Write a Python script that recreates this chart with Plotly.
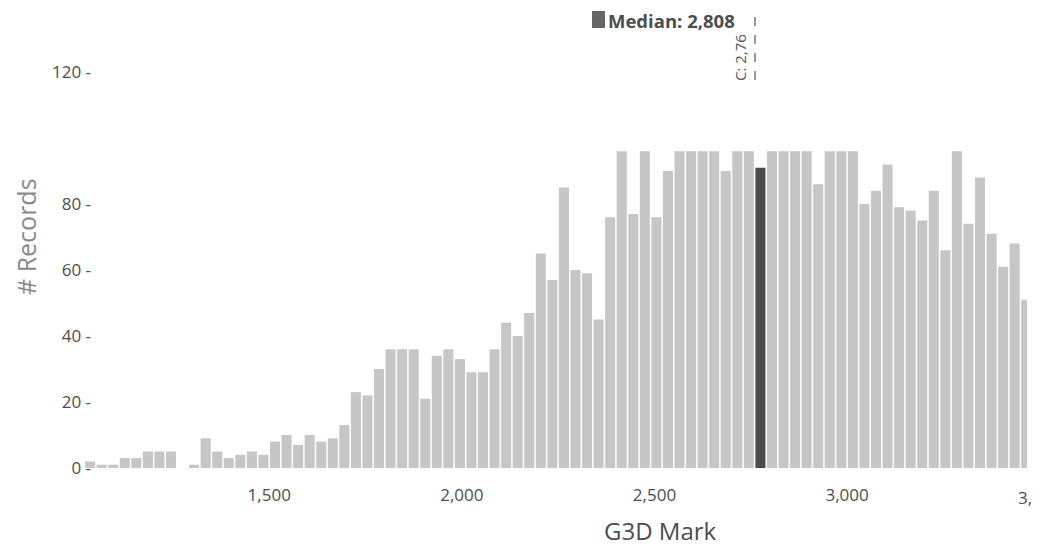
import plotly.graph_objects as go

# ---- data ----
bin_centers = [
    1035, 1065, 1095, 1125, 1155, 1185, 1215, 1245, 1275, 1305,
    1335, 1365, 1395, 1425, 1455, 1485, 1515, 1545, 1575, 1605,
    1635, 1665, 1695, 1725, 1755, 1785, 1815, 1845, 1875, 1905,
    1935, 1965, 1995, 2025, 2055, 2085, 2115, 2145, 2175, 2205,
    2235, 2265, 2295, 2325, 2355, 2385, 2415, 2445, 2475, 2505,
    2535, 2565, 2595, 2625, 2655, 2685, 2715, 2745, 2775, 2805,
    2835, 2865, 2895, 2925, 2955, 2985, 3015, 3045, 3075, 3105,
    3135, 3165, 3195, 3225, 3255, 3285, 3315, 3345, 3375, 3405,
    3435, 3465,
]
records = [
    2, 1, 1, 3, 3, 5, 5, 5, 0, 1,
    9, 5, 3, 4, 5, 4, 8, 10, 7, 10,
    8, 9, 13, 23, 22, 30, 36, 36, 36, 21,
    34, 36, 33, 29, 29, 36, 44, 40, 47, 65,
    57, 85, 60, 59, 45, 76, 96, 77, 96, 76,
    90, 96, 96, 96, 96, 90, 96, 96, 91, 96,
    96, 96, 96, 86, 96, 96, 96, 80, 84, 92,
    79, 78, 75, 84, 66, 96, 74, 88, 71, 61,
    68, 51,
]
highlight_bin = 2775
median_label = "Median: 2,808"
side_label = "C: 2,76"
x_tick_vals = [1500, 2000, 2500, 3000]
x_tick_text = ["1,500", "2,000", "2,500", "3,000"]
x_edge_tick_text = "3,500"
x_edge_tick_val = 3500
y_tick_vals = [0, 20, 40, 60, 80, 120]
y_tick_text = ["0 -", "20 -", "40 -", "60 -", "80 -", "120 -"]

X_RANGE = [1014, 3467]
Y_RANGE = [0, 130]

LIGHT = "#c6c6c6"
DARK = "#4a4a4a"
TEXT = "#4d4d4d"
FONT = "Open Sans"

colors = [DARK if b == highlight_bin else LIGHT for b in bin_centers]

fig = go.Figure()
fig.add_trace(go.Bar(
    x=bin_centers, y=records,
    marker=dict(color=colors, line=dict(width=0)),
    showlegend=False, hoverinfo="x+y",
))

# page body has an 8px margin: draw in reference pixels, shift by OFF
OFF = 8
W, H = 1039 - OFF, 548 - OFF
L_REF, R_REF, T_REF, B_REF = 82, 1027, 39, 468
ml, mt = L_REF - OFF, T_REF - OFF
mr = W - (R_REF - OFF)
mb = H - (B_REF - OFF)
pw, ph = R_REF - L_REF, B_REF - T_REF


def px_x(px):
    return (px - L_REF) / pw


def px_y(py):
    return (B_REF - py) / ph


fig.update_layout(
    width=W, height=H,
    margin=dict(l=ml, r=mr, t=mt, b=mb, pad=0),
    paper_bgcolor="white", plot_bgcolor="white",
    bargap=0.13,
    font=dict(family=FONT, color=TEXT),
    xaxis=dict(
        range=X_RANGE, showgrid=False, zeroline=False, showline=False,
        tickvals=x_tick_vals, ticktext=x_tick_text, ticks="",
        tickfont=dict(size=17, color=TEXT, family=FONT),
        ticklabelstandoff=15,
    ),
    yaxis=dict(
        range=Y_RANGE, showgrid=False, zeroline=False, showline=False,
        tickvals=y_tick_vals, ticktext=y_tick_text, ticks="",
        tickfont=dict(size=17, color=TEXT, family=FONT),
        ticklabelstandoff=-10,
    ),
)

edge_x = (x_edge_tick_val - X_RANGE[0]) / (X_RANGE[1] - X_RANGE[0])

annotations = [
    dict(text="G3D Mark", xref="paper", yref="paper", x=px_x(660), y=px_y(530),
         showarrow=False, font=dict(size=24, color=TEXT, family=FONT),
         xanchor="center", yanchor="middle"),
    dict(text="# Records", xref="paper", yref="paper", x=px_x(26), y=px_y(237),
         showarrow=False, textangle=-90, font=dict(size=25, color="#8a8a8a", family=FONT),
         xanchor="center", yanchor="middle"),
    dict(text="<b>" + median_label + "</b>", xref="paper", yref="paper",
         x=px_x(607), y=px_y(20.5), showarrow=False, borderpad=0,
         font=dict(size=18.5, color=TEXT, family=FONT), xanchor="left", yanchor="middle"),
    dict(text=side_label, xref="paper", yref="paper", x=px_x(740), y=px_y(58),
         showarrow=False, textangle=-90, font=dict(size=15, color="#5a5a5a", family=FONT),
         xanchor="center", yanchor="middle"),
    dict(text=x_edge_tick_text, xref="paper", yref="paper", x=edge_x, y=px_y(497),
         showarrow=False, font=dict(size=17, color=TEXT, family=FONT),
         xanchor="center", yanchor="middle"),
]
fig.update_layout(annotations=annotations)

fig.add_shape(type="rect", xref="paper", yref="paper",
              x0=px_x(592), x1=px_x(605), y0=px_y(28), y1=px_y(11),
              fillcolor="#666666", line=dict(width=0))
fig.add_shape(type="line", xref="paper", yref="paper",
              x0=px_x(755), x1=px_x(755), y0=px_y(80), y1=px_y(8),
              line=dict(color="#777777", width=1.5, dash="dash"))

fig.write_html("out.html")
